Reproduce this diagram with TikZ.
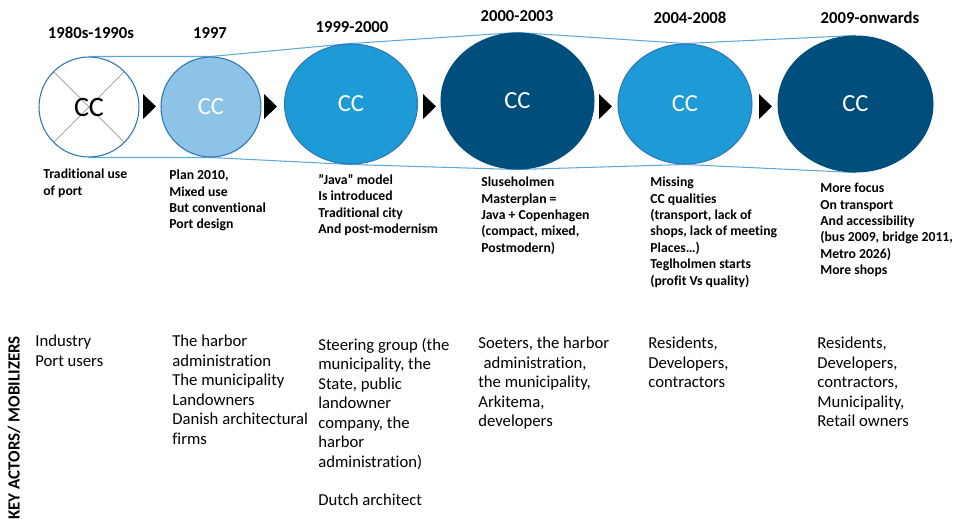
\documentclass[tikz,border=0pt]{standalone}
\usepackage{fontspec}
\setmainfont{Carlito}[Ligatures=NoCommon]
\usetikzlibrary{shapes.geometric,backgrounds}
\definecolor{ccline}{HTML}{5DA9DD}
\definecolor{ccedge}{HTML}{2E75B6}
\definecolor{ccpale}{HTML}{8DC3E7}
\definecolor{ccmid}{HTML}{1E9BD7}
\definecolor{ccdark}{HTML}{004E7C}

\begin{document}
\begin{tikzpicture}[x=0.02cm, y=-0.02cm,
	cc/.style={ellipse, inner sep=0pt, draw=ccedge, line width=0.6pt, text=white, font=\fontsize{14}{16}\selectfont},
	year/.style={inner sep=0pt, font=\bfseries\fontsize{9.5}{11}\selectfont},
	desc/.style={anchor=north west, align=left, inner sep=0pt, font=\bfseries\fontsize{7.8}{9.3}\selectfont},
	actor/.style={anchor=north west, align=left, inner sep=0pt, font=\fontsize{9.5}{11.05}\selectfont}]
	
	\useasboundingbox (0,0) rectangle (958,518);
	
	% the six city-centre stages
	\node[cc, minimum size=2cm, fill=white, text=black, font=\fontsize{16}{18}\selectfont,
		path picture={\draw[gray!70, line width=0.5pt]
			(path picture bounding box.north west) -- (path picture bounding box.south east)
			(path picture bounding box.north east) -- (path picture bounding box.south west);}]
		(c1) at (89,107) {CC};
	\node[cc, minimum size=2cm, fill=ccpale] (c2) at (211,107) {CC};
	\node[cc, minimum width=2.66cm, minimum height=2.4cm, fill=ccmid] (c3) at (351,104) {CC};
	\node[cc, minimum width=3.06cm, minimum height=2.72cm, fill=ccdark, draw=ccdark] (c4) at (517.5,101) {CC};
	\node[cc, minimum width=2.68cm, minimum height=2.4cm, fill=ccmid] (c5) at (685,104) {CC};
	\node[cc, minimum width=3.1cm, minimum height=2.72cm, fill=ccdark, draw=ccdark] (c6) at (855.5,104) {CC};
	
	\begin{scope}[on background layer]
		\draw[ccline, line width=0.6pt] (c1.north) -- (c2.north) -- (c3.north) -- (c4.north) -- (c5.north) -- (c6.north);
		\draw[ccline, line width=0.6pt] (c1.south) -- (c2.south) -- (c3.south) -- (c4.south) -- (c5.south) -- (c6.south);
	\end{scope}
	
	\foreach \x in {143,264,423,599,759}
		\fill[black] (\x,94) -- ++(13,12.5) -- ++(-13,12.5) -- cycle;
	
	% periods
	\node[year] (y1) at (91,33) {1980s-1990s};
	\node[year] (y2) at (210,33) {1997};
	\node[year] (y3) at (352,27) {1999-2000};
	\node[year] (y4) at (517,16) {2000-2003};
	\node[year] (y5) at (690,18) {2004-2008};
	\node[year] (y6) at (870,18) {2009-onwards};
	
	% what happened
	\node[desc] (d1) at (43,169) {Traditional use\\of port};
	\node[desc] (d2) at (169,170) {Plan 2010,\\Mixed use\\But conventional\\Port design};
	\node[desc] (d3) at (318,174) {”Java” model\\Is introduced\\Traditional city\\And post-modernism};
	\node[desc] (d4) at (481,177) {Sluseholmen\\Masterplan =\\Java + Copenhagen\\(compact, mixed,\\Postmodern)};
	\node[desc] (d5) at (650,177) {Missing\\CC qualities\\(transport, lack of\\shops, lack of meeting\\Places…)\\Teglholmen starts\\(profit Vs quality)};
	\node[desc] (d6) at (820,183) {More focus\\On transport\\And accessibility\\(bus 2009, bridge 2011,\\Metro 2026)\\More shops};
	
	% who
	\node[rotate=90, inner sep=0pt, font=\bfseries\fontsize{9.7}{11}\selectfont] (keyact) at (14,428) {KEY ACTORS/ MOBILIZERS};
	\node[actor] (k1) at (35,335) {Industry\\Port users};
	\node[actor] (k2) at (172,335) {The harbor\\administration\\The municipality\\Landowners\\Danish architectural\\firms};
	\node[actor] (k3) at (318,338) {Steering group (the\\municipality, the\\State, public\\landowner\\company, the\\harbor\\administration)\\[11pt]Dutch architect};
	\node[actor] (k4) at (478,337) {Soeters, the harbor\\\hspace*{3pt}administration,\\the municipality,\\Arkitema,\\developers};
	\node[actor] (k5) at (648,337) {Residents,\\Developers,\\contractors};
	\node[actor] (k6) at (817,337) {Residents,\\Developers,\\contractors,\\Municipality,\\Retail owners};
\end{tikzpicture}
\end{document}
